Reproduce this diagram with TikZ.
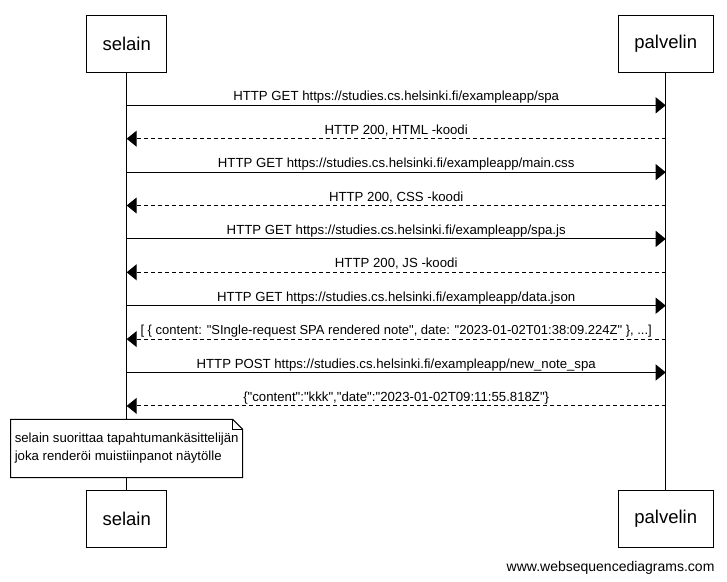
\documentclass[tikz,border=0pt]{standalone}
\usepackage{fontspec}
\setmainfont{Liberation Sans}[Ligatures=TeXOff]
\usetikzlibrary{arrows.meta,positioning}

\begin{document}
\begin{tikzpicture}[
  x=1pt, y=-1pt,
  actor/.style={draw, line width=1pt, minimum height=57pt, inner xsep=16pt, font=\fontsize{18.5}{22}\selectfont},
  life/.style={line width=1pt},
  call/.style={-{Triangle[length=10pt,width=16pt]}, line width=1pt},
  reply/.style={call, dash pattern=on 4pt off 3pt},
  msg/.style={midway, anchor=base, yshift=4.5pt, inner sep=0pt, font=\fontsize{13.2}{16}\selectfont},
  note/.style={fill=white, minimum width=231.6pt, minimum height=58pt, inner xsep=3pt, inner ysep=0pt, align=left, font=\fontsize{13.2}{18}\selectfont},
]
  \useasboundingbox (0,0) rectangle (727,581);

  \node[actor] (selain) at (126.7,43.7) {selain};
  \node[actor] (palvelin) at (665.7,43.7) {palvelin};
  \node[actor] (selainEnd) at (126.7,518.5) {selain};
  \node[actor] (palvelinEnd) at (665.7,518.5) {palvelin};

  % Lifelines
  \draw[life] (selain) -- (selainEnd);
  \draw[life] (palvelin) -- (palvelinEnd);

  % Message rows
  \foreach \i in {1,...,10} {
    \coordinate (s\i) at (126.7, {71.9+33.4*\i});
    \coordinate (p\i) at (665.7, {71.9+33.4*\i});
  }

  \draw[call] (s1) -- (p1) node[msg] {HTTP GET https://studies.cs.helsinki.fi/exampleapp/spa};
  \draw[reply] (p2) -- (s2) node[msg] {HTTP 200, HTML -koodi};
  \draw[call] (s3) -- (p3) node[msg] {HTTP GET https://studies.cs.helsinki.fi/exampleapp/main.css};
  \draw[reply] (p4) -- (s4) node[msg] {HTTP 200, CSS -koodi};
  \draw[call] (s5) -- (p5) node[msg] {HTTP GET https://studies.cs.helsinki.fi/exampleapp/spa.js};
  \draw[reply] (p6) -- (s6) node[msg] {HTTP 200, JS -koodi};
  \draw[call] (s7) -- (p7) node[msg] {HTTP GET https://studies.cs.helsinki.fi/exampleapp/data.json};
  \draw[reply] (p8) -- (s8) node[msg, font=\fontsize{13}{16}\selectfont] {[ \{ content: "SIngle-request SPA rendered note", date: "2023-01-02T01:38:09.224Z" \}, ...]};
  \draw[call] (s9) -- (p9) node[msg] {HTTP POST https://studies.cs.helsinki.fi/exampleapp/new\_note\_spa};
  \draw[reply] (p10) -- (s10) node[msg] {\{"content":"kkk","date":"2023-01-02T09:11:55.818Z"\}};

  % Note with folded corner
  \node[note, anchor=north west] (noteBox) at (10.7,419.3) {selain suorittaa tapahtumankäsittelijän\\joka renderöi muistiinpanot näytölle};
  \draw[line width=1pt] (noteBox.north west) -- ([xshift=-10pt]noteBox.north east) -- ([yshift=-10pt]noteBox.north east) -- (noteBox.south east) -- (noteBox.south west) -- cycle;
  \draw[line width=1pt] ([xshift=-10pt]noteBox.north east) |- ([yshift=-10pt]noteBox.north east);

  \node[anchor=base east, font=\fontsize{14}{17}\selectfont] (credit) at (718,571) {www.websequencediagrams.com};
\end{tikzpicture}
\end{document}
